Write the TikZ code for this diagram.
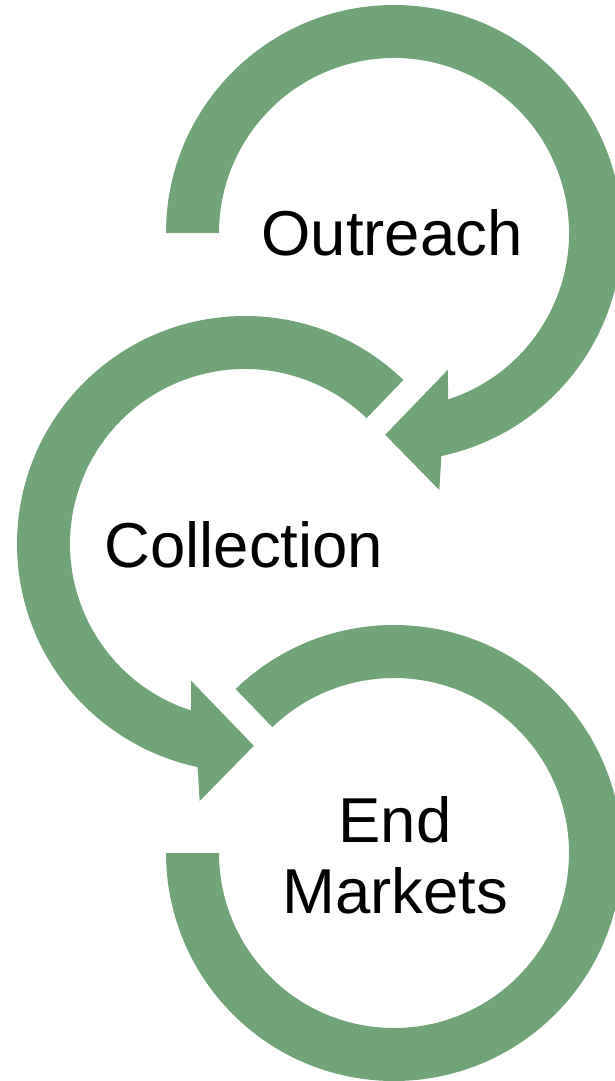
\documentclass[tikz,border=0pt]{standalone}
\usepackage{fontspec}
\setmainfont{Liberation Sans}
\usetikzlibrary{calc}
\definecolor{ringgreen}{RGB}{114,164,121}
\begin{document}
\begin{tikzpicture}[x=0.75pt,y=-0.75pt,
  ring/.style={fill=ringgreen},
  lbl/.style={font=\fontsize{47.6}{53.25}\selectfont,inner sep=0pt,align=center,text=black}]
\fill[white] (0,0) rectangle (614,1081);
\useasboundingbox (0,0) rectangle (614,1081);
\coordinate (c1) at (394,233);
\coordinate (c2) at (245,544);
\coordinate (c3) at (394,853);
% circle 1: flat start at left, arrow at bottom right
\fill[ring] ($(c1)+(180:228)$) arc[start angle=180, end angle=438, radius=228]
  -- ($(c1)+(80:261)$) -- ($(c1)+(92.5:202)$) -- ($(c1)+(68.5:147)$)
  -- ($(c1)+(72:175)$) arc[start angle=432, end angle=180, radius=175] -- cycle;
% circle 2: cut start upper right, arrow at bottom
\fill[ring] ($(c2)+(-46:228)$) arc[start angle=-46, end angle=-258, radius=228]
  -- ($(c2)+(100:261)$) -- ($(c2)+(87.5:202)$) -- ($(c2)+(111.5:147)$)
  -- ($(c2)+(108:175)$) arc[start angle=-252, end angle=-46, radius=175] -- cycle;
% circle 3: cut start upper left, flat end at left
\fill[ring] ($(c3)+(226:228)$) arc[start angle=226, end angle=540, radius=228]
  -- ($(c3)+(180:175)$) arc[start angle=540, end angle=226, radius=175] -- cycle;
\node[lbl,anchor=base] (outreach) at (392,255) {Outreach};
\node[lbl,anchor=base] (collection) at (244,567) {Collection};
\node[lbl,anchor=center] (endmarkets) at (395,855) {End\\Markets};
\end{tikzpicture}
\end{document}
